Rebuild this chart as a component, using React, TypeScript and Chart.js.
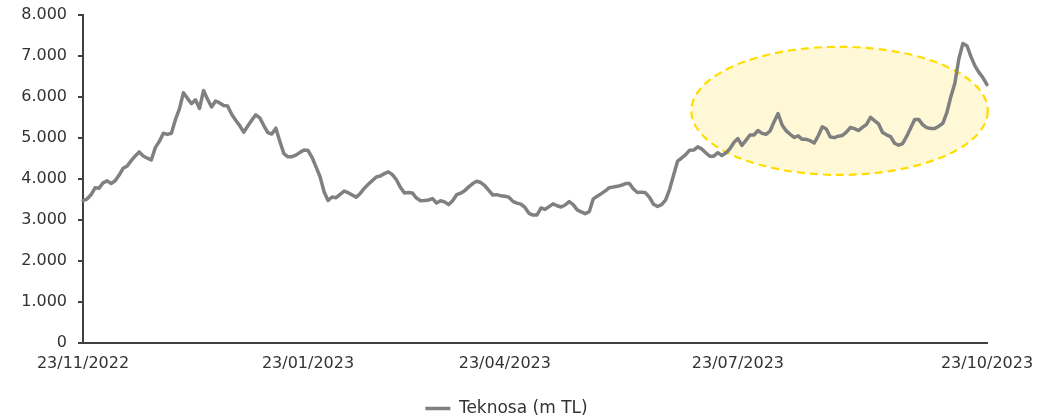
import React, { useEffect, useRef } from "react";
import { Chart, registerables } from "chart.js";

Chart.register(...registerables);

// Teknosa market cap (m TL), one value per trading day
const values: number[] = [
  3471, 3511, 3615, 3784, 3777, 3907, 3955, 3891, 3958, 4095,
  4263, 4317, 4447, 4563, 4660, 4562, 4508, 4463, 4766, 4917,
  5118, 5087, 5117, 5448, 5712, 6105, 5967, 5837, 5931, 5720,
  6156, 5945, 5756, 5902, 5855, 5792, 5780, 5577, 5433, 5303,
  5141, 5292, 5435, 5566, 5491, 5304, 5130, 5098, 5239, 4915,
  4618, 4541, 4543, 4582, 4650, 4705, 4695, 4530, 4294, 4055,
  3691, 3475, 3561, 3545, 3625, 3704, 3667, 3610, 3557, 3648,
  3771, 3872, 3959, 4048, 4073, 4131, 4173, 4107, 3981, 3797,
  3656, 3670, 3656, 3536, 3471, 3474, 3488, 3521, 3415, 3470,
  3443, 3376, 3472, 3617, 3655, 3716, 3808, 3888, 3945, 3914,
  3840, 3723, 3610, 3619, 3590, 3578, 3557, 3455, 3413, 3386,
  3306, 3163, 3120, 3122, 3293, 3258, 3325, 3395, 3348, 3317,
  3366, 3447, 3376, 3246, 3200, 3154, 3203, 3515, 3580, 3643,
  3710, 3788, 3803, 3821, 3846, 3888, 3891, 3757, 3672, 3680,
  3663, 3553, 3383, 3329, 3374, 3483, 3748, 4098, 4437, 4512,
  4595, 4704, 4705, 4783, 4734, 4642, 4554, 4557, 4642, 4573,
  4632, 4739, 4890, 4987, 4820, 4943, 5073, 5073, 5182, 5112,
  5090, 5171, 5397, 5597, 5318, 5179, 5091, 5015, 5052, 4968,
  4968, 4935, 4878, 5055, 5273, 5218, 5025, 5009, 5045, 5062,
  5142, 5256, 5228, 5183, 5259, 5329, 5504, 5426, 5346, 5133,
  5077, 5032, 4873, 4824, 4863, 5037, 5243, 5452, 5454, 5324,
  5254, 5231, 5230, 5289, 5359, 5617, 6008, 6334, 6932, 7305,
  7251, 6986, 6760, 6600, 6469, 6300,
];

const tickLabels: string[] = ["23/11/2022", "23/01/2023", "23/04/2023", "23/07/2023", "23/10/2023"];
const tickIndices: number[] = [0, 56, 105, 163, 225];
const seriesName = "Teknosa (m TL)";

// highlighted region (data units: category index, value)
const highlightX: number[] = [151.4, 225.2];
const highlightY: number[] = [4100, 7225];

const categories: string[] = values.map((_, i) => {
  const k = tickIndices.indexOf(i);
  return k >= 0 ? tickLabels[k] : "";
});

const fmt = (v: number) => String(v).replace(/\B(?=(\d{3})+(?!\d))/g, ".");

const ellipsePlugin = {
  id: "highlightEllipse",
  beforeDatasetsDraw(chart: any) {
    const { ctx, scales } = chart;
    const x0 = scales.x.getPixelForValue(highlightX[0]);
    const x1 = scales.x.getPixelForValue(highlightX[1]);
    const y0 = scales.y.getPixelForValue(highlightY[1]);
    const y1 = scales.y.getPixelForValue(highlightY[0]);
    const cx = (x0 + x1) / 2;
    const cy = (y0 + y1) / 2;
    ctx.save();
    ctx.beginPath();
    ctx.ellipse(cx, cy, (x1 - x0) / 2, (y1 - y0) / 2, 0, 0, Math.PI * 2);
    ctx.fillStyle = "#FFF8D6";
    ctx.fill();
    ctx.setLineDash([8, 5]);
    ctx.lineWidth = 2.2;
    ctx.strokeStyle = "#FFDD00";
    ctx.stroke();
    ctx.restore();
  },
};

export default function App() {
  const ref = useRef<HTMLCanvasElement | null>(null);
  useEffect(() => {
    if (!ref.current) return;
    const font = "'DejaVu Sans', sans-serif";
    const chart = new Chart(ref.current, {
      type: "line",
      data: {
        labels: categories,
        datasets: [
          {
            label: seriesName,
            data: values,
            borderColor: "#808080",
            backgroundColor: "#808080",
            borderWidth: 3.5,
            pointRadius: 0,
            pointStyle: "line",
            tension: 0,
            borderJoinStyle: "round",
            borderCapStyle: "round",
          },
        ],
      },
      options: {
        animation: false,
        responsive: true,
        maintainAspectRatio: false,
        layout: { padding: { left: 0, right: 45, top: 15, bottom: -7 } },
        plugins: {
          tooltip: { enabled: false },
          legend: {
            position: "bottom",
            labels: {
              usePointStyle: true,
              pointStyle: "line",
              pointStyleWidth: 25,
              padding: 10,
              color: "#333333",
              font: { family: font, size: 17 },
            },
          },
        },
        scales: {
          x: {
            type: "category",
            offset: false,
            grid: { display: true, drawOnChartArea: false, drawTicks: false },
            border: { display: true, color: "#404040", width: 2 },
            ticks: {
              autoSkip: false,
              maxRotation: 0,
              minRotation: 0,
              padding: 11,
              color: "#333333",
              font: { family: font, size: 16 },
            },
            afterFit(scale: any) {
              scale.height = 47;
            },
          },
          y: {
            min: 0,
            max: 8000,
            grid: { display: true, drawOnChartArea: false, drawTicks: true, tickLength: 5, color: "#404040", lineWidth: 2 },
            border: { display: true, color: "#404040", width: 2 },
            ticks: {
              stepSize: 1000,
              padding: 11,
              color: "#333333",
              font: { family: font, size: 16 },
              callback: (v: any) => fmt(Number(v)),
            },
            afterFit(scale: any) {
              scale.width = 83;
              scale.paddingTop = 0;
              scale.paddingBottom = 0;
            },
          },
          spacer: {
            type: "linear",
            position: "right",
            display: true,
            grid: { display: false, drawTicks: false },
            border: { display: false },
            ticks: { display: false },
            afterFit(scale: any) {
              scale.width = 26;
              scale.paddingTop = 0;
              scale.paddingBottom = 0;
            },
          },
        },
      },
      plugins: [ellipsePlugin],
    });
    return () => chart.destroy();
  }, []);

  return (
    <div style={{ position: "absolute", left: 0, top: 0, width: 1058, height: 420 }}>
      <canvas ref={ref} />
    </div>
  );
}
